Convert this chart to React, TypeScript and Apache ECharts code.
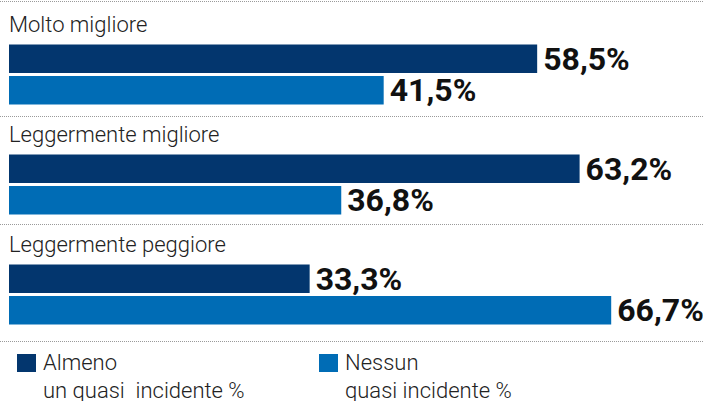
import React, { useEffect, useRef } from "react";
import * as echarts from "echarts";

const categories = ["Molto migliore", "Leggermente migliore", "Leggermente peggiore"];
const seriesNames = ["Almeno\nun quasi  incidente %", "Nessun\nquasi incidente %"];
const almenoValues = [58.5, 63.2, 33.3];
const nessunValues = [41.5, 36.8, 66.7];
const colors = ["#03366E", "#006CB5"];
const separatorYs = [1.5, 116.5, 224.5, 341.5];

export default function App() {
  const ref = useRef<HTMLDivElement>(null);
  useEffect(() => {
    document.body.style.margin = "0";
    const chart = echarts.init(ref.current!, null, { renderer: "svg" });
    const fmt = (p: any) => String(p.value).replace(".", ",") + "%";
    const labelStyle = {
      show: true,
      position: "right" as const,
      distance: 6,
      formatter: fmt,
      fontFamily: "Roboto",
      fontWeight: 700,
      fontSize: 32,
      color: "#111",
    };
    const graphic: any[] = [];
    separatorYs.forEach((y) => {
      graphic.push({
        type: "line",
        shape: { x1: 0, y1: y, x2: 703, y2: y },
        style: { stroke: "#9a9a9a", lineWidth: 1, lineDash: [1, 1] },
        silent: true,
      });
    });
    const legendX = [17, 319];
    seriesNames.forEach((name, i) => {
      graphic.push({
        type: "rect",
        shape: { x: legendX[i], y: 354, width: 19, height: 18 },
        style: { fill: colors[i] },
      });
      graphic.push({
        type: "text",
        x: legendX[i] + 26,
        y: 348,
        style: {
          text: name,
          fontFamily: "Roboto",
          fontWeight: 300,
          fontSize: 22,
          lineHeight: 28,
          fill: "#222",
          verticalAlign: "top",
          align: "left",
        },
      });
    });
    chart.setOption({
      animation: false,
      grid: { left: 9, right: 62, top: 19.5, height: 330, containLabel: false },
      xAxis: { type: "value", min: 0, max: 70, show: false },
      yAxis: {
        type: "category",
        data: categories,
        inverse: true,
        axisLine: { show: false },
        axisTick: { show: false },
        splitLine: { show: false },
        axisLabel: {
          inside: true,
          margin: 0,
          verticalAlign: "bottom",
          padding: [0, 0, 39, 0],
          fontFamily: "Roboto",
          fontWeight: 300,
          fontSize: 22,
          color: "#222",
        },
      },
      series: [
        {
          name: seriesNames[0],
          type: "bar",
          data: almenoValues,
          barWidth: 28.5,
          barGap: "10%",
          itemStyle: { color: colors[0] },
          label: labelStyle,
        },
        {
          name: seriesNames[1],
          type: "bar",
          data: nessunValues,
          barWidth: 28.5,
          barGap: "10%",
          itemStyle: { color: colors[1] },
          label: labelStyle,
        },
      ],
      graphic,
    });
    return () => chart.dispose();
  }, []);
  return (
    <div
      ref={ref}
      style={{ position: "absolute", left: 0, top: 0, width: 703, height: 401, background: "#fff" }}
    />
  );
}
